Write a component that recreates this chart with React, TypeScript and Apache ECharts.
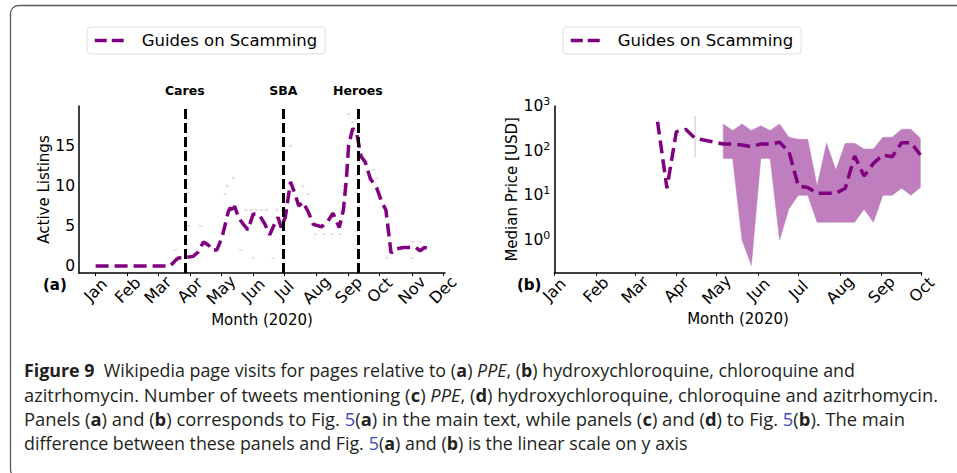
import React, { useEffect, useRef } from "react";
import * as echarts from "echarts";

// ---------- tick labels ----------
const MONTHS = ["Jan", "Feb", "Mar", "Apr", "May", "Jun", "Jul", "Aug", "Sep", "Oct", "Nov", "Dec"];
const MONTH_START_DAYS = [0, 31, 60, 91, 121, 152, 182, 213, 244, 274, 305, 335]; // day of year 2020
const LISTING_TICKS = [0, 5, 10, 15];
const PRICE_TICKS = [1, 10, 100, 1000];

// ---------- events (panel a) ----------
const EVENT_NAMES = ["Cares", "SBA", "Heroes"];
const EVENT_DAYS = [86, 181, 253];

// ---------- panel (a): active listings ----------
const LISTING_DAYS = [0, 72, 77, 80, 86, 94, 99, 104, 109, 112, 117, 122, 128, 130, 132, 134, 138, 142, 147, 152, 158, 163, 168, 171, 176, 179, 183, 188, 192, 196, 200, 205, 210, 218, 224, 229, 235, 239, 242, 244, 248, 252, 256, 260, 265, 271, 276, 280, 285, 288, 297, 309, 313, 317, 321];
const LISTING_AVG = [0, 0, 0.7, 1.0, 1.05, 1.2, 1.75, 3.0, 2.6, 2.0, 2.0, 3.6, 6.8, 7.3, 6.6, 7.5, 6.0, 5.3, 4.5, 6.5, 6.4, 5.3, 3.9, 4.8, 6.1, 4.8, 6.1, 10.5, 9.1, 7.5, 8.0, 6.8, 5.2, 4.9, 5.6, 6.6, 4.8, 7.0, 11, 15, 17.2, 16.5, 13.7, 13, 10.9, 9.8, 8.0, 7.0, 1.6, 2.1, 2.3, 2.3, 1.9, 2.3, 2.2];
const DAILY_DAYS = [77, 78, 90, 101, 107, 125, 127, 133, 136, 140, 145, 150, 152, 155, 160, 165, 171, 175, 180, 188, 200, 205, 212, 220, 228, 236, 239, 244, 248, 250, 261, 268, 271, 281, 305, 306, 313];
const DAILY_COUNTS = [2, 1, 5, 5, 3, 9, 10, 11, 7, 2, 7, 7, 1, 7, 7, 7, 1, 7, 7, 15, 10, 9, 4, 4, 4, 4, 10, 19, 18, 17, 13, 12, 11, 1, 1, 3, 3];

// ---------- panel (b): median price ----------
const PRICE_DAYS = [77, 84, 91, 98, 105, 126, 133, 140, 147, 154, 161, 168, 175, 182, 189, 196, 203, 210, 217, 224, 231, 238, 245, 252, 259, 266, 273];
const PRICE_MEDIAN = [446, 14.4, 266, 300, 189, 141, 141, 134, 123, 141, 141, 154, 95, 16.2, 15, 11.1, 11.1, 11.1, 14.4, 76, 27, 52, 80, 73, 151, 151, 80];
const BAND_DAYS = [105, 126, 133, 140, 147, 154, 161, 168, 175, 182, 189, 196, 203, 210, 217, 224, 231, 238, 245, 252, 259, 266, 273];
const BAND_LOW = [70, 67, 67, 1.0, 0.27, 67, 67, 1.0, 5, 10, 10, 2.5, 2.5, 2.5, 2.5, 2.5, 4.9, 2.5, 10, 10, 14.4, 10, 15];
const BAND_HIGH = [600, 396, 281, 396, 281, 362, 281, 396, 199, 180, 180, 16.3, 146, 37, 146, 146, 109, 109, 199, 199, 302, 302, 190];

// ---------- caption ----------
const CAPTION_LINES = [
  "{b|Figure 9}  Wikipedia page visits for pages relative to ({b|a}) {i|PPE}, ({b|b}) hydroxychloroquine, chloroquine and",
  "azitrhomycin. Number of tweets mentioning ({b|c}) {i|PPE}, ({b|d}) hydroxychloroquine, chloroquine and azitrhomycin.",
  "Panels ({b|a}) and ({b|b}) corresponds to Fig. {l|5}({b|a}) in the main text, while panels ({b|c}) and ({b|d}) to Fig. {l|5}({b|b}). The main",
  "difference between these panels and Fig. {l|5}({b|a}) and ({b|b}) is the linear scale on y axis",
];
const CAPTION_RIGHT = [855, 938, 905, 688];

const PURPLE = "#800080";
const FONT = "DejaVu Sans";
const CAP_FONT = "Open Sans";

function monthLabel(v: number) {
  const i = MONTH_START_DAYS.indexOf(Math.round(v));
  return i >= 0 ? MONTHS[i] : "";
}

export default function App() {
  const ref = useRef<HTMLDivElement>(null);
  useEffect(() => {
    document.body.style.margin = "0";
    if (!ref.current) return;
    const chart = echarts.init(ref.current, undefined, { renderer: "svg" });

    // caption width fitting
    const capSize = 18.5;
    const canvas = document.createElement("canvas");
    const ctx = canvas.getContext("2d")!;
    const measure = (line: string) => {
      let total = 0;
      const re = /\{([a-z])\|([^}]*)\}|([^{]+)/g;
      let m: RegExpExecArray | null;
      while ((m = re.exec(line))) {
        const tag = m[1];
        const txt = m[1] ? m[2] : m[3];
        const weight = tag === "b" ? "bold " : "";
        const style = tag === "i" ? "italic " : "";
        ctx.font = `${style}${weight}${capSize}px "${CAP_FONT}"`;
        total += ctx.measureText(txt).width;
      }
      return total || 900;
    };
    const capY = [370, 394.5, 418.5, 442.5];
    const rich = {
      b: { fontFamily: CAP_FONT, fontSize: capSize, fontWeight: "bold", fill: "#231f20" },
      i: { fontFamily: CAP_FONT, fontSize: capSize, fontStyle: "italic", fill: "#231f20" },
      l: { fontFamily: CAP_FONT, fontSize: capSize, fill: "#3b4cc0" },
    };

    const xAxisCommon = {
      type: "value",
      splitLine: { show: false },
      axisLine: { show: true, onZero: false, lineStyle: { color: "#000", width: 1.5 } },
      axisTick: { show: true, length: 3, customValues: MONTH_START_DAYS, lineStyle: { color: "#000" } },
      axisLabel: {
        customValues: MONTH_START_DAYS,
        formatter: monthLabel,
        rotate: 45,
        align: "center",
        verticalAlign: "middle",
        margin: 17,
        fontFamily: FONT,
        fontSize: 16,
        color: "#000",
      },
      name: "Month (2020)",
      nameLocation: "middle",
      nameGap: 39,
      nameTextStyle: { fontFamily: FONT, fontSize: 15, color: "#000" },
    };

    const option: any = {
      animation: false,
      backgroundColor: "#fff",
      grid: [
        { left: 79, top: 106, width: 366, height: 167 },
        { left: 554.3, top: 106, width: 367.4, height: 166.7 },
      ],
      legend: [0, 1].map((k) => ({
        data: ["Guides on Scamming"],
        left: k === 0 ? 87 : 563,
        top: 27,
        itemWidth: 34,
        itemHeight: 14,
        padding: [5, 8, 5, 6],
        borderColor: "#dddddd",
        borderWidth: 1,
        borderRadius: 4,
        selectedMode: false,
        itemStyle: { opacity: 0, color: "transparent", borderWidth: 0 },
        lineStyle: { color: PURPLE, width: 3.5, type: [12, 5], cap: "butt" },
        textStyle: { fontFamily: FONT, fontSize: 16.5, color: "#000", padding: [0, 0, 0, 8] },
      })),
      xAxis: [
        { ...xAxisCommon, gridIndex: 0, min: -16, max: 337 },
        { ...xAxisCommon, gridIndex: 1, min: 0, max: 274 },
      ],
      yAxis: [
        {
          type: "value",
          gridIndex: 0,
          min: -0.88,
          max: 20,
          splitLine: { show: false },
          axisLine: { show: true, onZero: false, lineStyle: { color: "#000", width: 1.5 } },
          axisTick: { show: false, customValues: LISTING_TICKS },
          axisLabel: { customValues: LISTING_TICKS, margin: 4, fontFamily: FONT, fontSize: 15.5, color: "#000" },
          name: "Active Listings",
          nameLocation: "middle",
          nameGap: 28,
          nameTextStyle: { fontFamily: FONT, fontSize: 15, color: "#000" },
        },
        {
          type: "log",
          logBase: 10,
          gridIndex: 1,
          min: 0.185,
          max: 1000,
          splitLine: { show: false },
          minorTick: { show: false },
          axisLine: { show: true, onZero: false, lineStyle: { color: "#000", width: 1.5 } },
          axisTick: { show: false, customValues: PRICE_TICKS },
          axisLabel: {
            customValues: PRICE_TICKS,
            margin: 4,
            fontFamily: FONT,
            fontSize: 15.5,
            color: "#000",
            formatter: (v: number) => "10{s|" + Math.round(Math.log10(v)) + "}",
            rich: {
              s: { fontFamily: FONT, fontSize: 11, color: "#000", padding: [0, 0, 9, 0] },
            },
          },
          name: "Median Price [USD]",
          nameLocation: "middle",
          nameGap: 35,
          nameTextStyle: { fontFamily: FONT, fontSize: 15, color: "#000" },
        },
      ],
      series: [
        {
          name: "Daily listings",
          type: "scatter",
          xAxisIndex: 0,
          yAxisIndex: 0,
          symbol: "rect",
          symbolSize: [3, 2],
          itemStyle: { color: PURPLE, opacity: 0.14 },
          silent: true,
          data: DAILY_DAYS.map((d, i) => [d, DAILY_COUNTS[i]]),
        },
        {
          name: "Guides on Scamming",
          type: "line",
          xAxisIndex: 0,
          yAxisIndex: 0,
          showSymbol: false,
          symbol: "none",
          lineStyle: { color: PURPLE, width: 3.5, type: [13, 6], cap: "butt" },
          itemStyle: { color: PURPLE },
          data: LISTING_DAYS.map((d, i) => [d, LISTING_AVG[i]]),
          markLine: {
            silent: true,
            symbol: ["none", "none"],
            lineStyle: { color: "#000", width: 3, type: [10, 4] },
            label: {
              show: true,
              position: "end",
              formatter: "{b}",
              distance: 9,
              fontFamily: FONT,
              fontWeight: "bold",
              fontSize: 12.5,
              color: "#000",
            },
            emphasis: { disabled: true },
            data: EVENT_DAYS.map((d, i) => ({ xAxis: d, name: EVENT_NAMES[i] })),
          },
        },
        {
          name: "Price range",
          type: "custom",
          xAxisIndex: 1,
          yAxisIndex: 1,
          silent: true,
          clip: true,
          data: BAND_DAYS.map((d, i) => [d, BAND_LOW[i], BAND_HIGH[i]]),
          encode: { x: 0, y: [1, 2] },
          renderItem: (params: any, api: any) => {
            if (params.dataIndex !== 0) return null;
            const children: any[] = [];
            const flush = (run: number[]) => {
              if (!run.length) return;
              if (run.length === 1) {
                const j = run[0];
                const a = api.coord([BAND_DAYS[j], BAND_LOW[j]]);
                const b = api.coord([BAND_DAYS[j], BAND_HIGH[j]]);
                children.push({
                  type: "line",
                  shape: { x1: a[0], y1: a[1], x2: b[0], y2: b[1] },
                  style: { stroke: "#e3c6e3", lineWidth: 1.2 },
                });
                return;
              }
              const pts: number[][] = [];
              run.forEach((j) => pts.push(api.coord([BAND_DAYS[j], BAND_HIGH[j]])));
              run.slice().reverse().forEach((j) => pts.push(api.coord([BAND_DAYS[j], BAND_LOW[j]])));
              children.push({
                type: "polygon",
                shape: { points: pts },
                style: { fill: "#bf7fbf", stroke: "#bf7fbf", lineWidth: 0.5 },
              });
            };
            let run: number[] = [];
            BAND_DAYS.forEach((d, j) => {
              if (run.length && d - BAND_DAYS[j - 1] > 7) {
                flush(run);
                run = [];
              }
              run.push(j);
            });
            flush(run);
            return { type: "group", children };
          },
        },
        {
          name: "Guides on Scamming",
          type: "line",
          xAxisIndex: 1,
          yAxisIndex: 1,
          showSymbol: false,
          symbol: "none",
          z: 3,
          lineStyle: { color: PURPLE, width: 3.5, type: [13, 6], cap: "butt" },
          itemStyle: { color: PURPLE },
          data: PRICE_DAYS.map((d, i) => [d, PRICE_MEDIAN[i]]),
        },
      ],
      graphic: [
        {
          type: "rect",
          silent: true,
          shape: { x: 10.5, y: 5.5, width: 1000, height: 472, r: 8 },
          style: { fill: "none", stroke: "#5a5a5a", lineWidth: 1.3 },
          z: 10,
        },
        {
          type: "text",
          x: 43,
          y: 285,
          style: { text: "(a)", fontFamily: FONT, fontWeight: "bold", fontSize: 15, fill: "#000", verticalAlign: "middle" },
        },
        {
          type: "text",
          x: 517,
          y: 285,
          style: { text: "(b)", fontFamily: FONT, fontWeight: "bold", fontSize: 15, fill: "#000", verticalAlign: "middle" },
        },
        ...CAPTION_LINES.map((t, k) => ({
          type: "text",
          x: 24,
          y: capY[k],
          scaleX: (CAPTION_RIGHT[k] - 24) / measure(t),
          style: {
            text: t,
            rich,
            fontFamily: CAP_FONT,
            fontSize: capSize,
            fill: "#231f20",
            verticalAlign: "middle",
          },
        })),
      ],
    };
    chart.setOption(option);
    return () => chart.dispose();
  }, []);
  return <div ref={ref} style={{ width: 957, height: 473 }} />;
}
